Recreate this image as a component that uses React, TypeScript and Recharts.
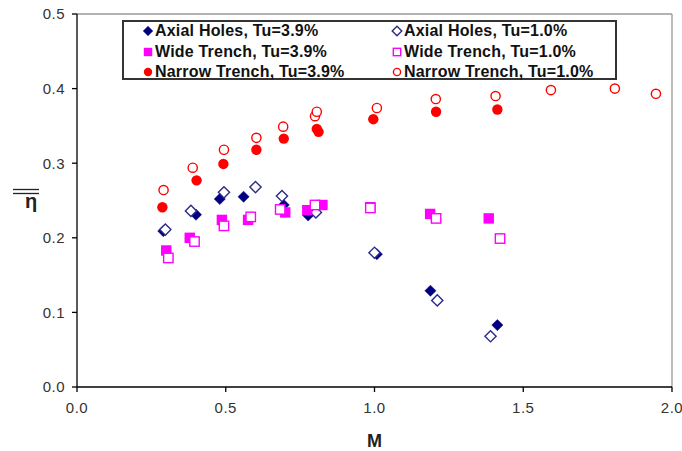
import React from 'react';
import { ScatterChart, Scatter, XAxis, YAxis, ReferenceLine, Legend, Label } from 'recharts';

document.body.style.margin = '0';

const FONT = '"Liberation Sans", Arial, sans-serif';

const xTicks = [0, 0.5, 1.0, 1.5, 2.0];
const yTicks = [0, 0.1, 0.2, 0.3, 0.4, 0.5];

// blowing ratio M and effectiveness for each configuration
const axialHighM = [0.29, 0.4, 0.48, 0.56, 0.695, 0.777, 1.008, 1.188, 1.413];
const axialHighEta = [0.209, 0.231, 0.252, 0.255, 0.244, 0.23, 0.178, 0.129, 0.083];
const axialLowM = [0.297, 0.383, 0.494, 0.6, 0.689, 0.803, 1.0, 1.211, 1.39];
const axialLowEta = [0.211, 0.236, 0.261, 0.268, 0.256, 0.234, 0.18, 0.116, 0.068];
const wideHighM = [0.3, 0.379, 0.487, 0.575, 0.7, 0.774, 0.825, 0.986, 1.187, 1.384];
const wideHighEta = [0.183, 0.2, 0.224, 0.224, 0.234, 0.237, 0.244, 0.241, 0.232, 0.226];
const wideLowM = [0.307, 0.395, 0.494, 0.584, 0.683, 0.8, 0.986, 1.207, 1.422];
const wideLowEta = [0.173, 0.195, 0.216, 0.228, 0.238, 0.244, 0.24, 0.226, 0.199];
const narrowHighM = [0.287, 0.402, 0.492, 0.603, 0.695, 0.806, 0.812, 0.996, 1.207, 1.413];
const narrowHighEta = [0.241, 0.277, 0.299, 0.318, 0.333, 0.346, 0.342, 0.359, 0.369, 0.372];
const narrowLowM = [0.291, 0.389, 0.494, 0.603, 0.693, 0.8, 0.806, 1.008, 1.206, 1.407, 1.593, 1.808, 1.946];
const narrowLowEta = [0.264, 0.294, 0.318, 0.334, 0.349, 0.363, 0.369, 0.374, 0.386, 0.39, 0.398, 0.4, 0.393];

type Kind = 'diamond' | 'square' | 'circle';

const zip = (xs: number[], ys: number[]) => xs.map((x, i) => ({ x, y: ys[i] }));

const series = [
    { name: 'Axial Holes, Tu=3.9%', kind: 'diamond' as Kind, open: false, color: '#000080', data: zip(axialHighM, axialHighEta) },
    { name: 'Axial Holes, Tu=1.0%', kind: 'diamond' as Kind, open: true, color: '#2a2a8a', data: zip(axialLowM, axialLowEta) },
    { name: 'Wide Trench, Tu=3.9%', kind: 'square' as Kind, open: false, color: '#ff00ff', data: zip(wideHighM, wideHighEta) },
    { name: 'Wide Trench, Tu=1.0%', kind: 'square' as Kind, open: true, color: '#ff00ff', data: zip(wideLowM, wideLowEta) },
    { name: 'Narrow Trench, Tu=3.9%', kind: 'circle' as Kind, open: false, color: '#ff0000', data: zip(narrowHighM, narrowHighEta) },
    { name: 'Narrow Trench, Tu=1.0%', kind: 'circle' as Kind, open: true, color: '#ff0000', data: zip(narrowLowM, narrowLowEta) },
];

function Marker({ cx, cy, kind, open, color, s = 5.6 }: { cx: number; cy: number; kind: Kind; open: boolean; color: string; s?: number }) {
    const fill = open ? '#fff' : color;
    const sw = open ? 1.4 : 0;
    if (kind === 'diamond') {
        const pts = `${cx},${cy - s} ${cx + s},${cy} ${cx},${cy + s} ${cx - s},${cy}`;
        return <polygon points={pts} fill={fill} stroke={color} strokeWidth={open ? 1.4 : 0.5} />;
    }
    if (kind === 'square') {
        const h = open ? s - 0.9 : s - 0.4;
        return <rect x={cx - h} y={cy - h} width={2 * h} height={2 * h} fill={fill} stroke={color} strokeWidth={sw} />;
    }
    return <circle cx={cx} cy={cy} r={open ? s - 1 : s - 0.4} fill={fill} stroke={color} strokeWidth={sw} />;
}

function LegendBox() {
    const rows = [0, 1, 2];
    return (
        <div
            style={{
                position: 'relative',
                width: 495,
                height: 60,
                boxSizing: 'border-box',
                border: '2px solid #333',
                background: '#fff',
                fontFamily: FONT,
                fontWeight: 'bold',
                fontSize: 16,
                letterSpacing: 0.2,
                color: '#111',
            }}
        >
            {rows.map((r) =>
                [0, 1].map((c) => {
                    const s = series[r * 2 + c];
                    const left = c === 0 ? 18 : 267;
                    const top = 9 + r * 20.5;
                    return (
                        <div key={s.name} style={{ position: 'absolute', left, top: top - 9, height: 18, display: 'flex', alignItems: 'center', whiteSpace: 'nowrap' }}>
                            <svg width={12} height={12} style={{ marginRight: 1 }}>
                                <Marker cx={6} cy={6} kind={s.kind} open={s.open} color={s.color} s={s.kind === 'diamond' ? 4.8 : 4.6} />
                            </svg>
                            <span>{s.name}</span>
                        </div>
                    );
                })
            )}
        </div>
    );
}

function EtaLabel(props: any) {
    const vb = props.viewBox || { x: 0, y: 14, width: 77, height: 373 };
    const mid = vb.y + vb.height / 2;
    return (
        <g>
            <line x1={13} x2={39} y1={mid - 11} y2={mid - 11} stroke="#222" strokeWidth={1.3} />
            <line x1={13} x2={39} y1={mid - 7} y2={mid - 7} stroke="#222" strokeWidth={1.3} />
            <text x={31} y={mid + 7} textAnchor="middle" fontFamily={FONT} fontSize={20} fontWeight="bold" fill="#222">
                η
            </text>
        </g>
    );
}

function MLabel(props: any) {
    const vb = props.viewBox || { x: 77, y: 387, width: 595, height: 64 };
    return (
        <text x={vb.x + vb.width / 2} y={vb.y + 60} textAnchor="middle" fontFamily={FONT} fontSize={18} fontWeight="bold" fill="#222">
            M
        </text>
    );
}

const tickStyle = { fontFamily: FONT, fontSize: 15, fill: '#333', letterSpacing: 0.5 };

export default function App() {
    return (
        <div style={{ width: 682, height: 451, background: '#fff' }}>
            <ScatterChart width={682} height={451} margin={{ top: 14, right: 10, bottom: 0, left: 0 }}>
                <XAxis
                    type="number"
                    dataKey="x"
                    domain={[0, 2]}
                    ticks={xTicks}
                    tickFormatter={(v: number) => v.toFixed(1)}
                    height={64}
                    tickSize={5}
                    tickMargin={10}
                    axisLine={{ stroke: '#000', strokeWidth: 1.3 }}
                    tickLine={{ stroke: '#000', strokeWidth: 1.3 }}
                    tick={tickStyle}
                    interval={0}
                    allowDataOverflow
                >
                    <Label content={MLabel} />
                </XAxis>
                <YAxis
                    type="number"
                    dataKey="y"
                    domain={[0, 0.5]}
                    ticks={yTicks}
                    tickFormatter={(v: number) => v.toFixed(1)}
                    width={77}
                    tickSize={5}
                    tickMargin={7}
                    axisLine={{ stroke: '#000', strokeWidth: 1.3 }}
                    tickLine={{ stroke: '#000', strokeWidth: 1.3 }}
                    tick={tickStyle}
                    interval={0}
                    allowDataOverflow
                >
                    <Label content={EtaLabel} />
                </YAxis>
                <ReferenceLine y={0.5} stroke="#999" strokeWidth={1.3} />
                <ReferenceLine x={2} stroke="#999" strokeWidth={1.3} />
                {series.map((s) => (
                    <Scatter
                        key={s.name}
                        name={s.name}
                        data={s.data}
                        isAnimationActive={false}
                        shape={(p: any) => <Marker cx={p.cx} cy={p.cy} kind={s.kind} open={s.open} color={s.color} />}
                    />
                ))}
                <Legend
                    layout="horizontal"
                    verticalAlign="middle"
                    align="center"
                    wrapperStyle={{ top: 20, left: 122, width: 495, height: 60 }}
                    content={() => <LegendBox />}
                />
            </ScatterChart>
        </div>
    );
}
